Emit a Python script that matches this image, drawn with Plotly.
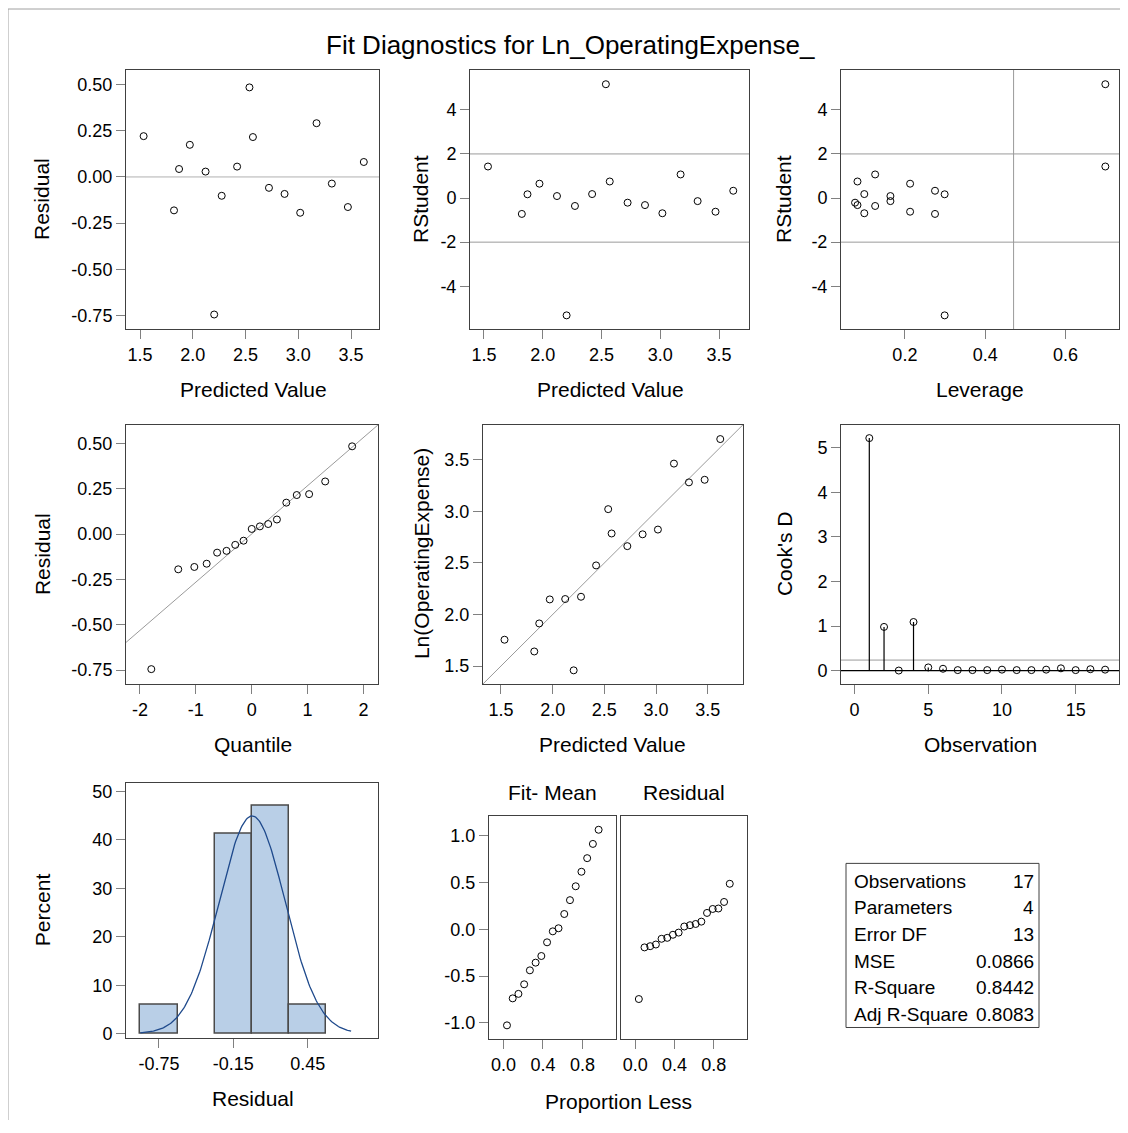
import numpy as np
import plotly.graph_objects as go

# ---------------- data ----------------
observation = list(range(1, 18))
predicted = [2.537, 2.203, 1.870, 1.534, 1.822, 1.972, 2.121, 2.274, 2.420,
             2.570, 2.722, 2.870, 3.018, 3.173, 3.318, 3.470, 3.621]
residual = [0.485, -0.745, 0.043, 0.221, -0.181, 0.174, 0.029, -0.102, 0.056,
            0.216, -0.059, -0.092, -0.194, 0.291, -0.036, -0.163, 0.081]
rstudent = [5.16, -5.32, 0.17, 1.43, -0.72, 0.65, 0.09, -0.36, 0.18,
            0.75, -0.21, -0.32, -0.69, 1.07, -0.14, -0.62, 0.33]
leverage = [0.699, 0.299, 0.299, 0.699, 0.275, 0.213, 0.164, 0.126, 0.099,
            0.082, 0.076, 0.082, 0.099, 0.126, 0.164, 0.213, 0.275]
cooks_d = [5.22, 0.98, 0.00, 1.09, 0.07, 0.04, 0.01, 0.01, 0.01,
           0.02, 0.01, 0.01, 0.02, 0.05, 0.01, 0.03, 0.02]
normal_quantile = [-1.797, -1.315, -1.027, -0.806, -0.619, -0.451, -0.295, -0.146, 0.0,
                   0.146, 0.295, 0.451, 0.619, 0.806, 1.027, 1.315, 1.797]
proportion_less = [0.036, 0.094, 0.152, 0.210, 0.268, 0.326, 0.384, 0.442, 0.500,
                   0.558, 0.616, 0.674, 0.732, 0.790, 0.848, 0.906, 0.964]

stat_labels = ["Observations", "Parameters", "Error DF", "MSE", "R-Square", "Adj R-Square"]
stat_values = ["17", "4", "13", "0.0866", "0.8442", "0.8083"]
n_params = 4

# tick labels
resid_ticks = ["0.50", "0.25", "0.00", "-0.25", "-0.50", "-0.75"]
pred_ticks = ["1.5", "2.0", "2.5", "3.0", "3.5"]
rstud_ticks = ["4", "2", "0", "-2", "-4"]
lev_ticks = ["0.2", "0.4", "0.6"]
quant_ticks = ["-2", "-1", "0", "1", "2"]
cook_ticks = ["0", "1", "2", "3", "4", "5"]
obs_ticks = ["0", "5", "10", "15"]
hist_x_ticks = ["-0.75", "-0.15", "0.45"]
pct_ticks = ["0", "10", "20", "30", "40", "50"]
spread_y_ticks = ["1.0", "0.5", "0.0", "-0.5", "-1.0"]
prop_ticks = ["0.0", "0.4", "0.8"]

# ---------------- derived quantities ----------------
pred = np.array(predicted)
res = np.array(residual)
observed = pred + res
n_obs = len(predicted)
res_sorted = np.sort(res)
fit_minus_mean = np.sort(pred - pred.mean())
res_mean = res.mean()
res_sd = res.std(ddof=1)

# ---------------- geometry helpers ----------------
W, H, OFF = 1112, 1117, 8
FONT = "Liberation Sans, Arial, sans-serif"


def fx(sx):
    return (sx - OFF) / W


def fy(sy):
    return 1 - (sy - OFF) / H


def vals(labels):
    return [float(t) for t in labels]


fig = go.Figure()
layout = dict(
    width=W, height=H, margin=dict(l=0, r=0, t=0, b=0),
    paper_bgcolor="white", plot_bgcolor="white", showlegend=False,
    font=dict(family=FONT, color="black"),
)

axis_base = dict(showline=True, mirror=True, linecolor="#404040", linewidth=1,
                 ticks="outside", ticklen=9, tickwidth=1, tickcolor="#808080",
                 showgrid=False, zeroline=False, tickfont=dict(size=18, color="black"))

panels = {
    # key: (left, right, top, bottom, xrange, yrange, xticks, yticks)
    1: (126, 379, 69, 330, [1.367, 3.765], [-0.825, 0.581], pred_ticks, resid_ticks),
    2: (470, 749, 69, 330, [1.381, 3.755], [-5.95, 5.82], pred_ticks, rstud_ticks),
    3: (841, 1119, 69, 330, [0.041, 0.733], [-5.95, 5.82], lev_ticks, rstud_ticks),
    4: (126, 378, 426, 687, [-2.25, 2.26], [-0.829, 0.604], quant_ticks, resid_ticks),
    5: (483, 743, 426, 687, [1.326, 3.841], [1.322, 3.841], pred_ticks, pred_ticks),
    6: (841, 1119, 426, 687, [-0.92, 17.94], [-0.31, 5.52], obs_ticks, cook_ticks),
    7: (126, 378, 786, 1043, [-1.016, 1.017], [-1.0, 51.8], hist_x_ticks, pct_ticks),
    8: (489, 616, 819, 1044, [-0.146, 1.14], [-1.176, 1.212], prop_ticks, spread_y_ticks),
    9: (621, 747, 819, 1044, [-0.146, 1.14], [-1.176, 1.212], prop_ticks, spread_y_ticks),
}

for k, (l, r, t, b, xr, yr, xt, yt) in panels.items():
    sfx = "" if k == 1 else str(k)
    xa = dict(axis_base, domain=[fx(l), fx(r)], range=xr, anchor="y" + sfx,
              tickvals=vals(xt), ticktext=xt)
    ya = dict(axis_base, domain=[fy(b), fy(t)], range=yr, anchor="x" + sfx,
              tickvals=vals(yt), ticktext=yt)
    if k == 9:
        ya.update(showticklabels=False, ticks="")
    layout["xaxis" + sfx] = xa
    layout["yaxis" + sfx] = ya

marker = dict(symbol="circle-open", size=7, color="black", line=dict(width=1, color="black"))
REF = "#9a9a9a"


def pts(x, y, k):
    sfx = "" if k == 1 else str(k)
    fig.add_trace(go.Scatter(x=list(x), y=list(y), mode="markers", marker=marker,
                             xaxis="x" + sfx, yaxis="y" + sfx, hoverinfo="x+y"))


def line(x, y, k, color=REF, width=1):
    sfx = "" if k == 1 else str(k)
    fig.add_trace(go.Scatter(x=list(x), y=list(y), mode="lines",
                             line=dict(color=color, width=width),
                             xaxis="x" + sfx, yaxis="y" + sfx, hoverinfo="skip"))


shapes = []


def hline(y, k, color=REF, width=1):
    sfx = "" if k == 1 else str(k)
    shapes.append(dict(type="line", xref="x" + sfx + " domain", yref="y" + sfx,
                       x0=0, x1=1, y0=y, y1=y, line=dict(color=color, width=width), layer="below"))


def vline(x, k, color=REF, width=1):
    sfx = "" if k == 1 else str(k)
    shapes.append(dict(type="line", xref="x" + sfx, yref="y" + sfx + " domain",
                       x0=x, x1=x, y0=0, y1=1, line=dict(color=color, width=width), layer="below"))


# Panel 1: residual vs predicted
hline(0, 1, color="#b0b0b0")
pts(predicted, residual, 1)

# Panel 2: RStudent vs predicted
hline(2, 2)
hline(-2, 2)
pts(predicted, rstudent, 2)

# Panel 3: RStudent vs leverage
hline(2, 3)
hline(-2, 3)
vline(2 * n_params / n_obs, 3)
pts(leverage, rstudent, 3)

# Panel 4: QQ plot
qx = np.array([-3.0, 3.0])
line(qx, res_mean + res_sd * qx, 4)
pts(normal_quantile, res_sorted, 4)

# Panel 5: observed vs predicted
dx = np.array([1.0, 4.0])
line(dx, dx, 5)
pts(predicted, observed, 5)

# Panel 6: Cook's D
hline(0, 6, color="black", width=1.2)
hline(4 / n_obs, 6)
nx, ny = [], []
for o, d in zip(observation, cooks_d):
    nx += [o, o, None]
    ny += [0, d, None]
line(nx, ny, 6, color="black", width=1.2)
pts(observation, cooks_d, 6)

# Panel 7: histogram of residuals with normal curve
fig.add_trace(go.Histogram(x=residual, xbins=dict(start=-0.9, end=0.6, size=0.3),
                           histnorm="percent", xaxis="x7", yaxis="y7",
                           marker=dict(color="#B9CFE7", line=dict(color="#4a4a4a", width=1.5))))
cx = np.linspace(-0.9, 0.8, 200)
bin_w = 0.3
cy = 100 * bin_w * np.exp(-0.5 * ((cx - res_mean) / res_sd) ** 2) / (res_sd * np.sqrt(2 * np.pi))
line(cx, cy, 7, color="#1F4A8C", width=1.3)

# Panel 8: residual-fit spread
pts(proportion_less, fit_minus_mean, 8)
pts(proportion_less, res_sorted, 9)

# ---------------- text ----------------
annotations = []


def ann(text, sx, sy, size=21, angle=0, xanchor="center", yanchor="middle"):
    annotations.append(dict(text=text, x=fx(sx), y=fy(sy), xref="paper", yref="paper",
                            showarrow=False, textangle=angle, xanchor=xanchor, yanchor=yanchor,
                            font=dict(size=size, family=FONT, color="black")))


ann("Fit Diagnostics for Ln_OperatingExpense_", 570, 44, size=26)

ann("Residual", 42, 199, angle=-90)
ann("RStudent", 784, 199, angle=-90)
ann("RStudent", 421, 199, angle=-90)
ann("Predicted Value", 253, 391)
ann("Predicted Value", 610, 391)
ann("Leverage", 980, 391)

ann("Residual", 42, 556, angle=-90)
ann("Ln(OperatingExpense)", 421, 556, angle=-90)
ann("Cook's D", 784, 556, angle=-90)
ann("Quantile", 253, 747)
ann("Predicted Value", 613, 747)
ann("Observation", 980, 747)

ann("Percent", 42, 914, angle=-90)
ann("Residual", 253, 1103)
ann("Proportion Less", 618, 1106)
ann("Fit- Mean", 552, 796)
ann("Residual", 684, 796)

# statistics table
tbl_l, tbl_r, tbl_t, tbl_b = 846, 1039, 867, 1032
shapes.append(dict(type="rect", xref="paper", yref="paper", x0=fx(tbl_l), x1=fx(tbl_r),
                   y0=fy(tbl_b), y1=fy(tbl_t), line=dict(color="#404040", width=1)))
row_first, row_step = 885, 26.8
for i, (lab, v) in enumerate(zip(stat_labels, stat_values)):
    cy_ = row_first + row_step * i
    ann(lab, 852, cy_, size=19, xanchor="left")
    ann(v, 1036, cy_, size=19, xanchor="right")

# outer border (top/left edge of the graph)
shapes.append(dict(type="line", xref="paper", yref="paper", x0=0, x1=1, y0=1, y1=1,
                   line=dict(color="#a0a0a0", width=1)))
shapes.append(dict(type="line", xref="paper", yref="paper", x0=0, x1=0, y0=0, y1=1,
                   line=dict(color="#a0a0a0", width=1)))

layout["shapes"] = shapes
layout["annotations"] = annotations
layout["bargap"] = 0
fig.update_layout(**layout)

fig.write_html("out.html")
